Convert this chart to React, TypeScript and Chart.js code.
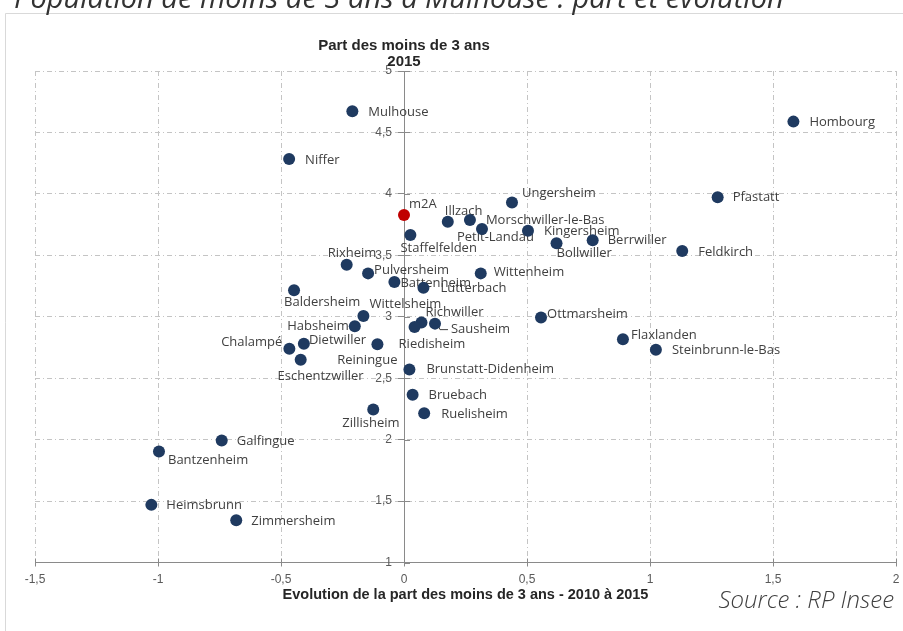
import { useEffect, useRef } from 'react';
import { Chart, registerables } from 'chart.js';

Chart.register(...registerables);

// ---- Data ----
const communes = [
  'Mulhouse', 'Niffer', 'Hombourg', 'Pfastatt', 'Ungersheim', 'Illzach',
  'Morschwiller-le-Bas', 'Petit-Landau', 'Kingersheim', 'Bollwiller', 'Berrwiller',
  'Feldkirch', 'Wittenheim', 'Staffelfelden', 'm2A', 'Rixheim', 'Pulversheim',
  'Battenheim', 'Lutterbach', 'Baldersheim', 'Wittelsheim', 'Habsheim', 'Richwiller',
  'Sausheim', 'Riedisheim', 'Ottmarsheim', 'Flaxlanden', 'Steinbrunn-le-Bas',
  'Dietwiller', 'Chalampé', 'Eschentzwiller', 'Reiningue', 'Brunstatt-Didenheim',
  'Bruebach', 'Ruelisheim', 'Zillisheim', 'Galfingue', 'Bantzenheim', 'Heimsbrunn',
  'Zimmersheim',
];

// Evolution de la part des moins de 3 ans 2010-2015 (points)
const evolution = [
  -0.210, -0.467, 1.583, 1.275, 0.439, 0.178,
  0.268, 0.317, 0.504, 0.620, 0.767,
  1.131, 0.312, 0.026, 0.0, -0.233, -0.146,
  -0.039, 0.079, -0.447, -0.165, -0.200, 0.071,
  0.126, 0.043, 0.557, 0.890, 1.024,
  -0.407, -0.466, -0.420, -0.108, 0.022,
  0.035, 0.082, -0.125, -0.741, -0.996, -1.027,
  -0.682,
];

// Part des moins de 3 ans en 2015 (%)
const part2015 = [
  4.672, 4.283, 4.588, 3.973, 3.929, 3.774,
  3.788, 3.714, 3.700, 3.598, 3.622,
  3.535, 3.353, 3.665, 3.829, 3.423, 3.353,
  3.282, 3.235, 3.216, 3.007, 2.922, 2.953,
  2.944, 2.917, 2.993, 2.816, 2.732,
  2.781, 2.740, 2.651, 2.776, 2.571,
  2.365, 2.215, 2.245, 1.992, 1.904, 1.469,
  1.344,
];

const xMin = -1.5;
const xMax = 2;
const yMin = 1;
const yMax = 5;
const tickStep = 0.5;

const outerTitle = 'Population de moins de 3 ans à Mulhouse : part et évolution';
const yTitle = ['Part des moins de 3 ans', '2015'];
const xTitle = 'Evolution de la part des moins de 3 ans - 2010 à 2015';
const sourceText = 'Source : RP Insee';
const highlighted = 'm2A';

// ---- Label placement (layout only) : [align, dx, dy] relative to point ----
const labelPlacement: Record<string, [CanvasTextAlign, number, number]> = {
  'Mulhouse': ['left', 16, 1],
  'Niffer': ['left', 16, 1],
  'Hombourg': ['left', 16, 1],
  'Pfastatt': ['left', 15, 0],
  'Ungersheim': ['left', 10, -9],
  'Illzach': ['left', -3, -10],
  'Morschwiller-le-Bas': ['left', 16, 0],
  'Petit-Landau': ['left', -25, 8],
  'Kingersheim': ['left', 16, 1],
  'Bollwiller': ['left', 0, 10],
  'Berrwiller': ['left', 15, 0],
  'Feldkirch': ['left', 16, 1],
  'Wittenheim': ['left', 13, -1],
  'Staffelfelden': ['left', -10, 13],
  'm2A': ['left', 5, -11],
  'Rixheim': ['left', -19, -11],
  'Pulversheim': ['left', 6, -3],
  'Battenheim': ['left', 6, 1],
  'Lutterbach': ['left', 17, 0],
  'Baldersheim': ['left', -10, 12],
  'Wittelsheim': ['left', 6, -12],
  'Habsheim': ['right', -6, 0],
  'Richwiller': ['left', 4, -10],
  'Sausheim': ['left', 16, 6],
  'Riedisheim': ['left', -16, 17],
  'Ottmarsheim': ['left', 6, -3],
  'Flaxlanden': ['left', 8, -4],
  'Steinbrunn-le-Bas': ['left', 16, 1],
  'Dietwiller': ['left', 5, -3],
  'Chalampé': ['right', -7, -6],
  'Eschentzwiller': ['right', 63, 17],
  'Reiningue': ['right', 20, 16],
  'Brunstatt-Didenheim': ['left', 17, 0],
  'Bruebach': ['left', 16, 1],
  'Ruelisheim': ['left', 17, 1],
  'Zillisheim': ['left', -31, 14],
  'Galfingue': ['left', 15, 1],
  'Bantzenheim': ['left', 9, 9],
  'Heimsbrunn': ['left', 15, 0],
  'Zimmersheim': ['left', 15, 1],
};

const NAVY = '#1f3a60';
const RED = '#c00000';
const GRID = '#c4c4c4';
const AXIS = '#8a8a8a';
const TICK_TEXT = '#595959';
const LABEL_TEXT = '#404040';
const TITLE_TEXT = '#262626';
const AXIS_FONT = '"Liberation Sans", Arial, sans-serif';

const fmt = (v: number | string) => String(v).replace('.', ',');

const pointLabels = {
  id: 'pointLabels',
  beforeDatasetsDraw(chart: any) {
    const ctx: CanvasRenderingContext2D = chart.ctx;
    const meta = chart.getDatasetMeta(0);
    ctx.save();
    ctx.font = '13px "Open Sans"';
    ctx.fillStyle = LABEL_TEXT;
    ctx.textBaseline = 'middle';
    meta.data.forEach((pt: any, i: number) => {
      const name = communes[i];
      const [align, dx, dy] = labelPlacement[name] ?? ['left', 16, 0];
      ctx.textAlign = align;
      ctx.fillText(name, pt.x + dx, pt.y + dy);
      if (name === 'Sausheim') {
        ctx.strokeStyle = LABEL_TEXT;
        ctx.lineWidth = 1;
        ctx.beginPath();
        ctx.moveTo(pt.x + 3, pt.y + 1);
        ctx.lineTo(pt.x + 5, pt.y + 6);
        ctx.lineTo(pt.x + 13, pt.y + 6);
        ctx.stroke();
      }
    });
    ctx.restore();
  },
};

const decor = {
  id: 'decor',
  beforeDraw(chart: any) {
    const ctx: CanvasRenderingContext2D = chart.ctx;
    ctx.save();
    ctx.fillStyle = '#ffffff';
    ctx.fillRect(0, 0, chart.width, chart.height);
    ctx.strokeStyle = '#d9d9d9';
    ctx.lineWidth = 1;
    ctx.beginPath();
    ctx.moveTo(5.5, chart.height + 5);
    ctx.lineTo(5.5, 13.5);
    ctx.lineTo(chart.width + 5, 13.5);
    ctx.stroke();
    ctx.fillStyle = '#333333';
    ctx.font = 'italic 29px "Open Sans"';
    ctx.textAlign = 'left';
    ctx.textBaseline = 'alphabetic';
    ctx.fillText(outerTitle, 14, 8);
    ctx.restore();
  },
  beforeDatasetsDraw(chart: any) {
    const ctx: CanvasRenderingContext2D = chart.ctx;
    const xs = chart.scales.x;
    const ys = chart.scales.y;
    const x0 = xs.getPixelForValue(0);
    ctx.save();
    // complementary halves of the crossing tick marks
    ctx.strokeStyle = AXIS;
    ctx.lineWidth = 1;
    ctx.beginPath();
    xs.ticks.forEach((t: any) => {
      const px = Math.round(xs.getPixelForValue(t.value)) + 0.5;
      ctx.moveTo(px, ys.bottom - 4);
      ctx.lineTo(px, ys.bottom);
    });
    ys.ticks.forEach((t: any) => {
      const py = Math.round(ys.getPixelForValue(t.value)) + 0.5;
      ctx.moveTo(x0, py);
      ctx.lineTo(x0 + 6, py);
    });
    ctx.stroke();
    // y tick labels, left of the axis crossing at x = 0
    ctx.fillStyle = TICK_TEXT;
    ctx.font = '12px ' + AXIS_FONT;
    ctx.textAlign = 'right';
    ctx.textBaseline = 'middle';
    ys.ticks.forEach((t: any) => {
      ctx.fillText(fmt(t.value), x0 - 12, ys.getPixelForValue(t.value));
    });
    ctx.restore();
  },
  afterDraw(chart: any) {
    const ctx: CanvasRenderingContext2D = chart.ctx;
    const xs = chart.scales.x;
    const x0 = xs.getPixelForValue(0);
    ctx.save();
    // y axis title
    ctx.fillStyle = TITLE_TEXT;
    ctx.font = 'bold 15px ' + AXIS_FONT;
    ctx.textAlign = 'center';
    ctx.textBaseline = 'alphabetic';
    ctx.fillText(yTitle[0], x0, 50);
    ctx.fillText(yTitle[1], x0, 66);
    // source
    ctx.fillStyle = '#404040';
    ctx.font = 'italic 300 24px "Open Sans"';
    ctx.textAlign = 'right';
    ctx.fillText(sourceText, 894, 608);
    ctx.restore();
  },
};

export default function App() {
  const ref = useRef<HTMLCanvasElement>(null);

  useEffect(() => {
    if (!ref.current) return;
    const points = evolution.map((x, i) => ({ x, y: part2015[i] }));
    const colors = communes.map((n) => (n === highlighted ? RED : NAVY));
    const chart = new Chart(ref.current, {
      type: 'scatter',
      data: {
        datasets: [
          {
            label: 'Communes',
            data: points,
            pointBackgroundColor: colors,
            pointBorderColor: colors,
            pointBorderWidth: 0,
            pointRadius: 6,
            pointHoverRadius: 6,
          },
        ],
      },
      options: {
        animation: false,
        responsive: false,
        devicePixelRatio: 1,
        layout: { padding: { left: 35, right: 7, top: 71, bottom: 28.5 } },
        plugins: {
          legend: { display: false },
          tooltip: { enabled: false },
          title: { display: false },
        },
        scales: {
          x: {
            type: 'linear',
            min: xMin,
            max: xMax,
            ticks: {
              stepSize: tickStep,
              callback: (v: any) => fmt(v),
              color: TICK_TEXT,
              font: { family: AXIS_FONT, size: 12, lineHeight: 2.2 },
              padding: 0,
              maxRotation: 0,
              autoSkip: false,
            },
            grid: { color: GRID, lineWidth: 1, tickLength: 4, tickColor: AXIS },
            border: { display: true, color: AXIS, width: 1, dash: [5, 3, 1, 3] },
            title: {
              display: true,
              text: xTitle,
              color: TITLE_TEXT,
              font: { family: AXIS_FONT, size: 14.5, weight: 'bold', lineHeight: 1 },
              padding: { top: -4.9, bottom: 0 },
            },
          },
          y: {
            type: 'linear',
            min: yMin,
            max: yMax,
            position: { x: 0 } as any,
            ticks: {
              stepSize: tickStep,
              display: false,
            },
            grid: { color: GRID, lineWidth: 1, tickLength: 6, tickColor: AXIS },
            border: { display: true, color: AXIS, width: 1, dash: [5, 3, 1, 3] },
          },
        },
      },
      plugins: [decor, pointLabels],
    });
    return () => chart.destroy();
  }, []);

  return (
    <div style={{ position: 'fixed', left: 0, top: 0, width: 903, height: 631, overflow: 'hidden', background: '#fff' }}>
      <canvas ref={ref} width={903} height={631} style={{ display: 'block' }} />
    </div>
  );
}
